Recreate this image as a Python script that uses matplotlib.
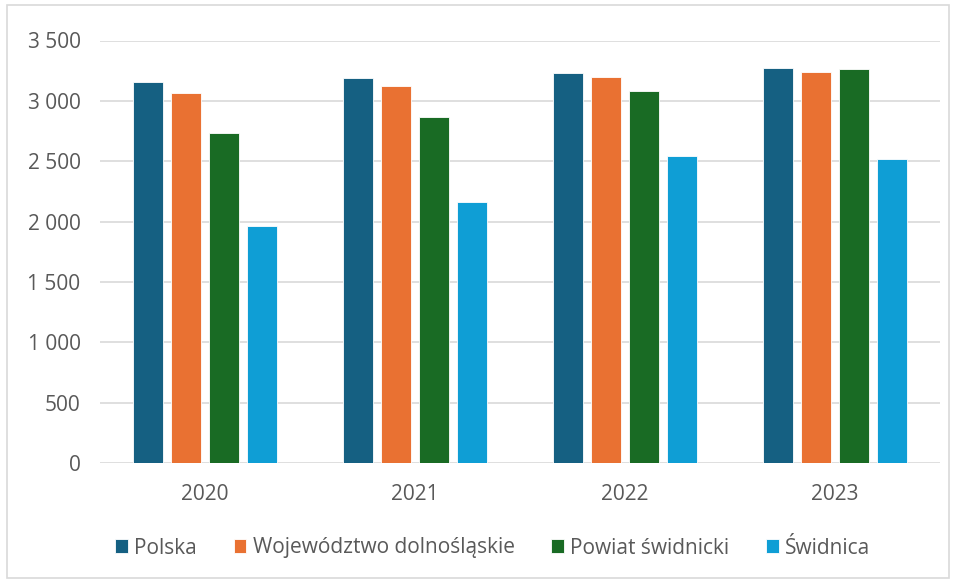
import matplotlib
matplotlib.use("Agg")
import matplotlib.pyplot as plt
import numpy as np
from matplotlib.patches import Rectangle

years = ["2020", "2021", "2022", "2023"]
series_names = ["Polska", "Województwo dolnośląskie", "Powiat świdnicki", "Świdnica"]
polska = [3160, 3189, 3230, 3275]
dolnoslaskie = [3061, 3127, 3200, 3238]
powiat = [2737, 2868, 3082, 3261]
swidnica = [1967, 2164, 2541, 2518]
colors = ["#156082", "#E97132", "#196B24", "#0F9ED5"]
yticks = [0, 500, 1000, 1500, 2000, 2500, 3000, 3500]
ytick_labels = ["0", "500", "1 000", "1 500", "2 000", "2 500", "3 000", "3 500"]

plt.rcParams['font.family'] = ['Open Sans', 'DejaVu Sans']

fig = plt.figure(figsize=(9.55, 5.81), dpi=100)
ax = fig.add_axes([100/955, 1-463/581, 840/955, (463-40.5)/581])

x = np.arange(len(years))
pitch = 0.181
width = 0.143
all_series = [polska, dolnoslaskie, powiat, swidnica]
for i, (vals, name, c) in enumerate(zip(all_series, series_names, colors)):
    ax.bar(x + (i - 1.5) * pitch, vals, width, color=c, label=name,
           edgecolor="white", linewidth=0.6, zorder=3)

ax.set_xlim(-0.5, 3.5)
ax.set_ylim(0, 3500)
ax.set_yticks(yticks)
ax.set_yticklabels(ytick_labels)
ax.set_xticks(x)
ax.set_xticklabels(years)
ax.grid(axis='y', color='#d9d9d9', linewidth=1.2, zorder=0)
for s in ax.spines.values():
    s.set_visible(False)
ax.tick_params(axis='both', length=0, labelsize=15, colors='#595959')
ax.tick_params(axis='y', pad=14)
ax.tick_params(axis='x', pad=15)

handles, labels = ax.get_legend_handles_labels()
fig.legend(handles, labels, loc='center', bbox_to_anchor=(0.516, 1-548/581), ncol=4,
           frameon=False, fontsize=15, handlelength=0.62, handleheight=0.62,
           handletextpad=0.3, columnspacing=1.75, labelcolor='#595959')

fig.patches.append(Rectangle((7/955, 3/581), 942/955, 573/581, transform=fig.transFigure,
                             fill=False, edgecolor='#d9d9d9', linewidth=1.2))

fig.savefig("out.png", dpi=100)
